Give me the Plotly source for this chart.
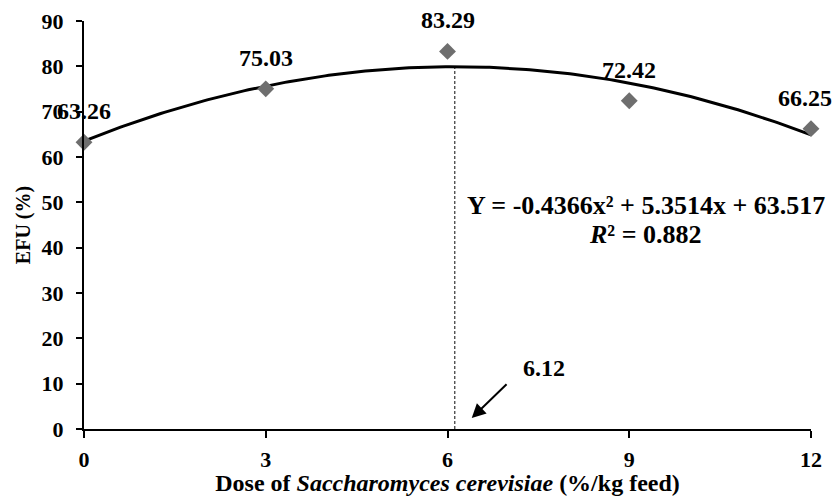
import numpy as np
import plotly.graph_objects as go

# Data
doses = [0, 3, 6, 9, 12]
efu = [63.26, 75.03, 83.29, 72.42, 66.25]
efu_labels = ["63.26", "75.03", "83.29", "72.42", "66.25"]
label_xshift = [0, 0, 0, 0, -6]

# Quadratic fit coefficients (from the chart's equation)
coef_a = -0.4366
coef_b = 5.3514
coef_c = 63.517
r_squared = 0.882
x_opt = 6.12

x_ticks = [0, 3, 6, 9, 12]
y_ticks = [0, 10, 20, 30, 40, 50, 60, 70, 80, 90]

FONT = "Liberation Serif"

xs = np.linspace(0, 12, 200)
ys = coef_a * xs**2 + coef_b * xs + coef_c
y_opt = coef_a * x_opt**2 + coef_b * x_opt + coef_c

fig = go.Figure()

# vertical dashed line at optimum
fig.add_trace(go.Scatter(
    x=[x_opt, x_opt], y=[0, y_opt], mode="lines",
    line=dict(color="#333333", width=1.2, dash="3px,2px"),
    hoverinfo="skip", showlegend=False))

# fitted curve
fig.add_trace(go.Scatter(
    x=xs, y=ys, mode="lines",
    line=dict(color="black", width=3),
    hoverinfo="skip", showlegend=False, cliponaxis=False))

# data points
fig.add_trace(go.Scatter(
    x=doses, y=efu, mode="markers",
    marker=dict(symbol="diamond", size=13, color="#6e6e6e"),
    showlegend=False, cliponaxis=False))

annotations = []
for xv, yv, lab, xsh in zip(doses, efu, efu_labels, label_xshift):
    annotations.append(dict(
        x=xv, y=yv, text=lab, showarrow=False, yshift=31, xshift=xsh,
        font=dict(family=FONT, size=24, color="black", weight="bold")))

annotations.append(dict(
    x=9.28, y=49.4,
    text=f"Y = {coef_a}x² + {coef_b}x + {coef_c}",
    showarrow=False,
    font=dict(family=FONT, size=26, color="black", weight="bold")))
annotations.append(dict(
    x=9.26, y=42.8,
    text=f"<i>R</i>² = {r_squared}",
    showarrow=False,
    font=dict(family=FONT, size=26, color="black", weight="bold")))

annotations.append(dict(
    x=7.6, y=13.5, text=f"{x_opt:.2f}", showarrow=False,
    font=dict(family=FONT, size=24, color="black", weight="bold")))

# arrow pointing to the optimum dose
annotations.append(dict(
    x=6.4, y=2.4, ax=7.0, ay=10.2, axref="x", ayref="y",
    xref="x", yref="y", text="", showarrow=True,
    arrowhead=2, arrowsize=1.4, arrowwidth=2, arrowcolor="black"))

# page body has an 8px default margin; size the figure so the page does not overflow
fig.update_layout(
    width=832, height=488,
    margin=dict(l=76, r=29, t=13, b=67),
    paper_bgcolor="white", plot_bgcolor="white",
    font=dict(family=FONT, size=22, color="black", weight="bold"),
    annotations=annotations,
    xaxis=dict(
        range=[0, 12], tickvals=x_ticks, ticktext=[str(v) for v in x_ticks],
        showline=True, linecolor="black", linewidth=2,
        ticks="outside", ticklen=7, tickwidth=2, tickcolor="black",
        showgrid=False, zeroline=False, ticklabelstandoff=3,
        automargin=False,
        tickfont=dict(family=FONT, size=22, color="black", weight="bold"),
        title=dict(
            text="Dose of <i>Saccharomyces cerevisiae</i> (%/kg feed)",
            font=dict(family=FONT, size=24, color="black", weight="bold"),
            standoff=8),
    ),
    yaxis=dict(
        range=[0, 90], tickvals=y_ticks, ticktext=[str(v) for v in y_ticks],
        showline=True, linecolor="black", linewidth=2,
        ticks="outside", ticklen=6, tickwidth=2, tickcolor="black",
        showgrid=False, zeroline=False, ticklabelstandoff=8,
        automargin=False,
        tickfont=dict(family=FONT, size=22, color="black", weight="bold"),
        title=dict(text="EFU (%)",
                   font=dict(family=FONT, size=20, color="black", weight="bold"),
                   standoff=6),
    ),
)

fig.write_html("out.html")
